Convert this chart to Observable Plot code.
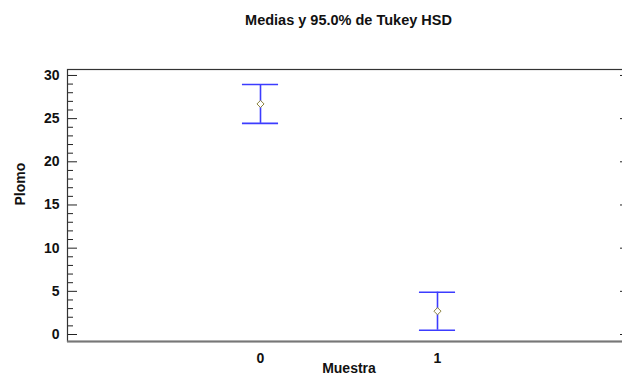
<!DOCTYPE html>
<html>
<head>
<meta charset="utf-8">
<script src="https://cdn.jsdelivr.net/npm/d3@7"></script>
<script src="https://cdn.jsdelivr.net/npm/@observablehq/plot@0.6"></script>
<style>
  html, body { margin: 0; padding: 0; background: #fff; overflow: hidden; width: 622px; height: 379px; }
  #wrap { position: relative; width: 622px; height: 379px; }
  #title { position: absolute; left: 67px; width: 563px; top: 12px; text-align: center;
           font: bold 14.5px "Liberation Sans", Arial, sans-serif; color: #111; line-height: 17px; }
  #chart { position: absolute; left: 0; top: 0; }
</style>
</head>
<body>
<div id="wrap">
  <div id="title">Medias y 95.0% de Tukey HSD</div>
  <div id="chart"></div>
</div>
<script>
const groups = [0, 1];
const means = [26.7, 2.7];
const lower = [24.45, 0.5];
const upper = [28.95, 4.9];
const yTicks = [0, 5, 10, 15, 20, 25, 30];
const yMinorTicks = d3.range(0, 31).filter(v => v % 5 !== 0);
const xLabel = "Muestra";
const yLabel = "Plomo";

const data = groups.map((g, i) => ({g, mean: means[i], lo: lower[i], hi: upper[i]}));
const capHalf = 0.102;
const blue = "#3c3cff";
const font = "Liberation Sans, Arial, sans-serif";

const W = 622, mL = 67, mR = -8;
const frameW = W - mL - mR;

const chart = Plot.plot({
  width: W,
  height: 379,
  marginLeft: mL,
  marginRight: mR,
  marginTop: 69,
  marginBottom: 38,
  style: {fontFamily: font, background: "transparent", overflow: "visible"},
  x: {domain: [-1.0904, 2.0904]},
  y: {domain: [-0.81, 30.69]},
  marks: [
    Plot.tickY(yTicks, {y: d => d, insetRight: frameW - 10, stroke: "#222"}),
    Plot.tickY(yMinorTicks, {y: d => d, insetRight: frameW - 6, stroke: "#222"}),
    Plot.tickY(yTicks, {y: d => d, insetLeft: frameW - 10, stroke: "#222"}),
    Plot.axisY({ticks: yTicks, tickSize: 0, tickPadding: 8, label: null,
                fontSize: 14, fontWeight: "bold", fill: "#111"}),
    Plot.axisX({ticks: groups, tickSize: 0, tickPadding: 12, label: null,
                tickFormat: d => String(d), fontSize: 14, fontWeight: "bold", fill: "#111"}),
    Plot.text([xLabel], {frameAnchor: "bottom", dy: 31.5, text: d => d,
                fontSize: 14, fontWeight: "bold", fill: "#111"}),
    Plot.text([yLabel], {frameAnchor: "left", dx: -47, rotate: -90, text: d => d,
                fontSize: 14, fontWeight: "bold", fill: "#111"}),
    Plot.frame({stroke: "#333", strokeWidth: 1.2}),
    Plot.ruleY([0], {y: () => -0.81, stroke: "#777", strokeWidth: 2}),
    Plot.ruleX(data, {x: "g", y1: "lo", y2: "hi", stroke: blue, strokeWidth: 1.6}),
    Plot.ruleY(data, {y: "hi", x1: d => d.g - capHalf, x2: d => d.g + capHalf, stroke: blue, strokeWidth: 1.6}),
    Plot.ruleY(data, {y: "lo", x1: d => d.g - capHalf, x2: d => d.g + capHalf, stroke: blue, strokeWidth: 1.6}),
    Plot.dot(data, {x: "g", y: "mean", symbol: "diamond2", r: 3.2, stroke: "#8c8440", strokeWidth: 1, fill: "white"})
  ]
});
document.getElementById("chart").appendChild(chart);
</script>
</body>
</html>
